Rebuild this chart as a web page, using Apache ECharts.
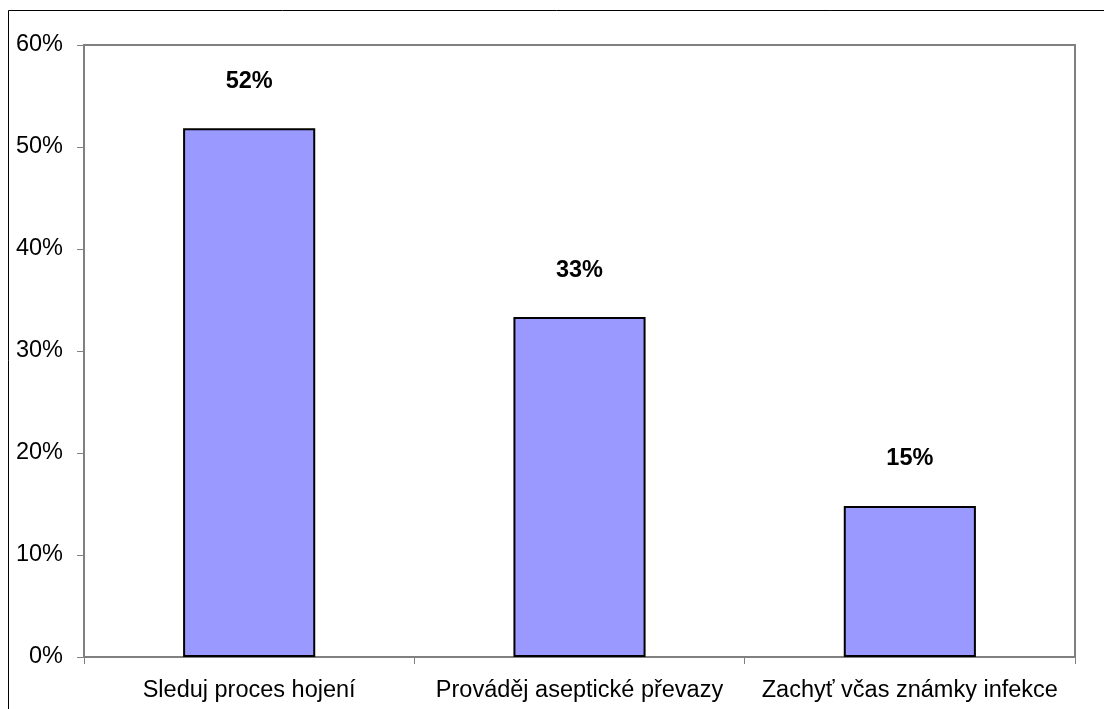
<!DOCTYPE html>
<html>
<head>
<meta charset="utf-8">
<style>
  html, body { margin: 0; padding: 0; background: #fff; }
  #chart { width: 1104px; height: 709px; }
</style>
<script src="https://cdn.jsdelivr.net/npm/echarts@6/dist/echarts.min.js"></script>
</head>
<body>
<div id="chart"></div>
<script>
// Share of respondents per answer (percent)
const categoryLabels = ['Sleduj proces hojení', 'Prováděj aseptické převazy', 'Zachyť včas známky infekce'];
const values = [51.85, 33.33, 14.81];
const yTicks = [0, 10, 20, 30, 40, 50, 60];

const chart = echarts.init(document.getElementById('chart'), null, { renderer: 'canvas' });
const font = 'Liberation Sans, Arial, sans-serif';

chart.setOption({
  animation: false,
  backgroundColor: '#ffffff',
  grid: { left: 84, right: 29, top: 45, bottom: 52, containLabel: false,
          show: true, borderColor: '#808080', borderWidth: 2, backgroundColor: 'transparent' },
  graphic: [{
    type: 'rect', silent: true, z: -1,
    shape: { x: 8.5, y: 10.5, width: 1110, height: 720 },
    style: { fill: 'none', stroke: '#000', lineWidth: 1 }
  }],
  xAxis: {
    type: 'category',
    data: categoryLabels,
    axisLine: { lineStyle: { color: '#808080', width: 2 } },
    axisTick: { show: true, length: 7, lineStyle: { color: '#808080', width: 1 } },
    axisLabel: { color: '#000', fontFamily: font, fontSize: 23.5, margin: 22,
                 interval: 0, hideOverlap: false },
    splitLine: { show: false }
  },
  yAxis: {
    type: 'value',
    min: yTicks[0], max: yTicks[yTicks.length - 1], interval: 10,
    axisLine: { show: true, lineStyle: { color: '#808080', width: 2 } },
    axisTick: { show: true, length: 7, lineStyle: { color: '#808080', width: 1 } },
    axisLabel: { color: '#000', fontFamily: font, fontSize: 23.5, margin: 21,
                 formatter: v => v + '%' },
    splitLine: { show: false }
  },
  series: [{
    type: 'bar',
    data: values,
    barWidth: '40%',
    itemStyle: { color: '#9999FF', borderColor: '#000', borderWidth: 2 },
    label: {
      show: true, position: 'top', distance: 35,
      color: '#000', fontFamily: font, fontSize: 23.5, fontWeight: 'bold',
      formatter: p => Math.round(p.value) + '%'
    }
  }]
});
</script>
</body>
</html>
